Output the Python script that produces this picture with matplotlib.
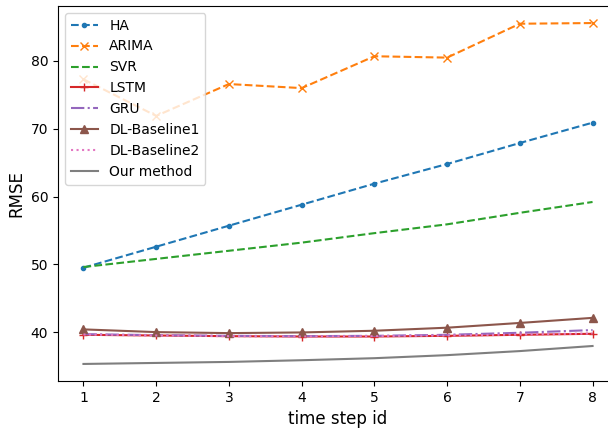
import numpy as np
import matplotlib
matplotlib.use("Agg")
import matplotlib.pyplot as plt

steps = [1, 2, 3, 4, 5, 6, 7, 8]

ha = [49.5, 52.6, 55.7, 58.8, 61.9, 64.8, 67.9, 70.9]
arima = [77.3, 71.9, 76.6, 76.0, 80.7, 80.5, 85.5, 85.6]
svr = [49.6, 50.8, 52.0, 53.2, 54.6, 55.9, 57.6, 59.2]
lstm = [39.6, 39.5, 39.4, 39.35, 39.35, 39.45, 39.6, 39.75]
gru = [39.7, 39.55, 39.45, 39.4, 39.45, 39.6, 39.9, 40.3]
dl_base1 = [40.4, 40.0, 39.85, 39.95, 40.2, 40.65, 41.35, 42.1]
dl_base2 = [39.65, 39.5, 39.4, 39.35, 39.4, 39.5, 39.65, 39.8]
ours = [35.3, 35.45, 35.6, 35.85, 36.15, 36.6, 37.2, 37.95]

fig = plt.figure(figsize=(6.08, 4.28), dpi=100)
# right spine falls just outside the saved picture, as in the reference
ax = fig.add_axes([58/608, 47/428, 560/608, 375/428])

ax.plot(steps, ha, '--', marker='.', color='C0', label='HA')
ax.plot(steps, arima, '--', marker='x', color='C1', label='ARIMA')
ax.plot(steps, svr, '--', color='C2', label='SVR')
ax.plot(steps, lstm, '-', marker='+', color='C3', label='LSTM')
ax.plot(steps, gru, '-.', color='C4', label='GRU')
ax.plot(steps, dl_base1, '-', marker='^', color='C5', label='DL-Baseline1')
ax.plot(steps, dl_base2, ':', color='C6', label='DL-Baseline2')
ax.plot(steps, ours, '-', color='C7', label='Our method')

ax.set_xlabel('time step id', fontsize=12)
ax.set_ylabel('RMSE', fontsize=12)
ax.set_xticks(steps)
ax.legend(loc='upper left')

fig.savefig('out.png', dpi=100)
